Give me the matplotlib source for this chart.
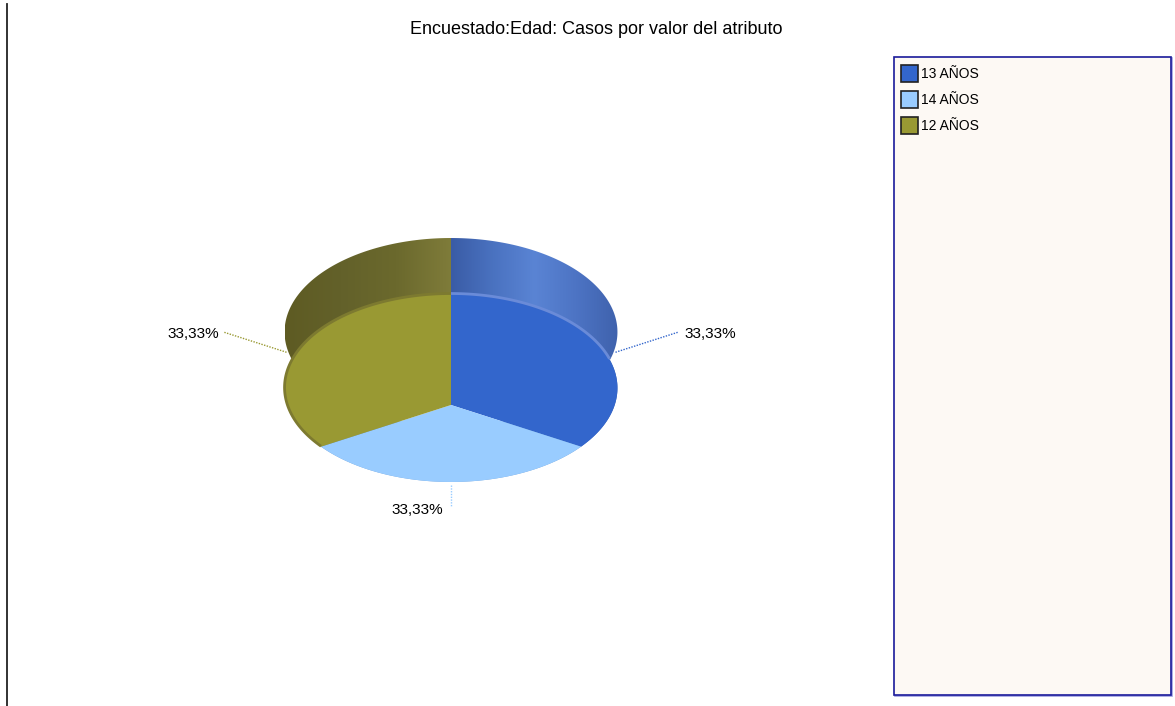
import matplotlib
matplotlib.use('Agg')
import matplotlib.pyplot as plt
import numpy as np
from matplotlib.patches import Polygon, Rectangle
from matplotlib.colors import LinearSegmentedColormap

plt.rcParams['font.family'] = ['Liberation Sans', 'DejaVu Sans']

# Datos
titulo = 'Encuestado:Edad: Casos por valor del atributo'
categorias = ['13 AÑOS', '14 AÑOS', '12 AÑOS']
casos = [1, 1, 1]
colores = ['#3366cc', '#99ccff', '#999933']
# degradado horizontal de la pared lateral de cada porcion
colores_pared = [['#3a5ca6', '#4a72c0', '#5a84d4', '#4d74c4', '#3f62ad'],
                 ['#6f9bd0', '#7aa8dc', '#6f9bd0'],
                 ['#5e5b23', '#63612a', '#6b692d', '#7f7c3a']]
colores_borde = ['#6a8bd8', '#99ccff', '#7d7a30']
# hasta donde baja el borde de cada cara (seno del angulo)
limite_borde = [0.45, 2.0, -0.6]

# Geometria del "pastel 3D" (pixeles)
cx, cy = 451, 405
sx, sy = 163.7, 90.9
k = -0.181
alto = 56


def proyectar(theta, r=1.0, h=0.0):
    t = np.radians(theta)
    u = r * np.cos(t)
    v = r * np.sin(t)
    d = 1 + k * v
    return cx + sx * u / d, cy - sy * v / d - h


fig = plt.figure(figsize=(11.75, 7.06), dpi=100)
ax = fig.add_axes([0, 0, 1, 1])
ax.set_xlim(0, 1175)
ax.set_ylim(706, 0)
ax.axis('off')

total = float(sum(casos))
limites = 90 - 360 * np.concatenate([[0], np.cumsum(casos)]) / total
porcentajes = [('%.2f%%' % (100 * c / total)).replace('.', ',') for c in casos]

# paredes laterales
for i in range(len(casos)):
    a1, a2 = limites[i], limites[i + 1]
    th = np.linspace(a1, a2, 120)
    xs_top, ys_top = proyectar(th, h=alto)
    xs_bot, ys_bot = proyectar(th[::-1])
    pts = np.column_stack([np.concatenate([xs_top, xs_bot]),
                           np.concatenate([ys_top, ys_bot])])
    poly = Polygon(pts, closed=True, facecolor='none', edgecolor='none')
    ax.add_patch(poly)
    cmap = LinearSegmentedColormap.from_list('p%d' % i, colores_pared[i])
    x0, x1 = pts[:, 0].min(), pts[:, 0].max()
    y0, y1 = pts[:, 1].min(), pts[:, 1].max()
    im = ax.imshow(np.linspace(0, 1, 200).reshape(1, -1), cmap=cmap,
                   extent=(x0, x1, y1, y0), aspect='auto', zorder=1)
    im.set_clip_path(poly)

# caras superiores
for i in range(len(casos)):
    a1, a2 = limites[i], limites[i + 1]
    th = np.linspace(a1, a2, 120)
    xs, ys = proyectar(th)
    pts = np.column_stack([np.concatenate([[cx], xs]), np.concatenate([[cy], ys])])
    ax.add_patch(Polygon(pts, closed=True, facecolor=colores[i],
                         edgecolor='none', zorder=3))
    # borde de la cara en la parte trasera
    th_b = th[np.sin(np.radians(th)) > limite_borde[i]]
    if len(th_b):
        bx, by = proyectar(th_b)
        ax.plot(bx, by - 0.5, color=colores_borde[i], lw=2.0, zorder=4,
                solid_capstyle='butt')

# etiquetas con lineas guia
for i in range(len(casos)):
    medio = (limites[i] + limites[i + 1]) / 2
    xa, ya = proyectar(medio, r=1.05)
    xb, yb = proyectar(medio, r=1.4)
    ax.plot([xa, xb], [ya, yb], color=colores[i], lw=1, ls=(0, (1, 1)), zorder=5)
    c = np.cos(np.radians(medio))
    if c > 0.2:
        ax.text(xb + 6, yb + 2, porcentajes[i], ha='left', va='center', fontsize=11)
    elif c < -0.2:
        ax.text(xb - 5, yb + 2, porcentajes[i], ha='right', va='center', fontsize=11)
    else:
        ax.text(xb - 8, yb + 3, porcentajes[i], ha='right', va='center', fontsize=11)

# titulo
ax.text(596, 29, titulo, ha='center', va='center', fontsize=13)

# linea vertical izquierda
ax.plot([7, 7], [4, 706], color='#222222', lw=1.3)

# leyenda
ax.add_patch(Rectangle((895, 58), 277, 638, facecolor='none',
                       edgecolor='#a0a0e0', lw=1.2, zorder=6))
ax.add_patch(Rectangle((894, 57), 277, 638, facecolor='#fdf9f4',
                       edgecolor='#1a1a9a', lw=1.2, zorder=7))
for i, nombre in enumerate(categorias):
    y = 65 + 26 * i
    ax.add_patch(Rectangle((901, y), 17, 17, facecolor=colores[i],
                           edgecolor='#222222', lw=1.2, zorder=8))
    ax.text(921, y + 8.5, nombre, ha='left', va='center', fontsize=10, zorder=8)

fig.savefig('out.png', dpi=100)
